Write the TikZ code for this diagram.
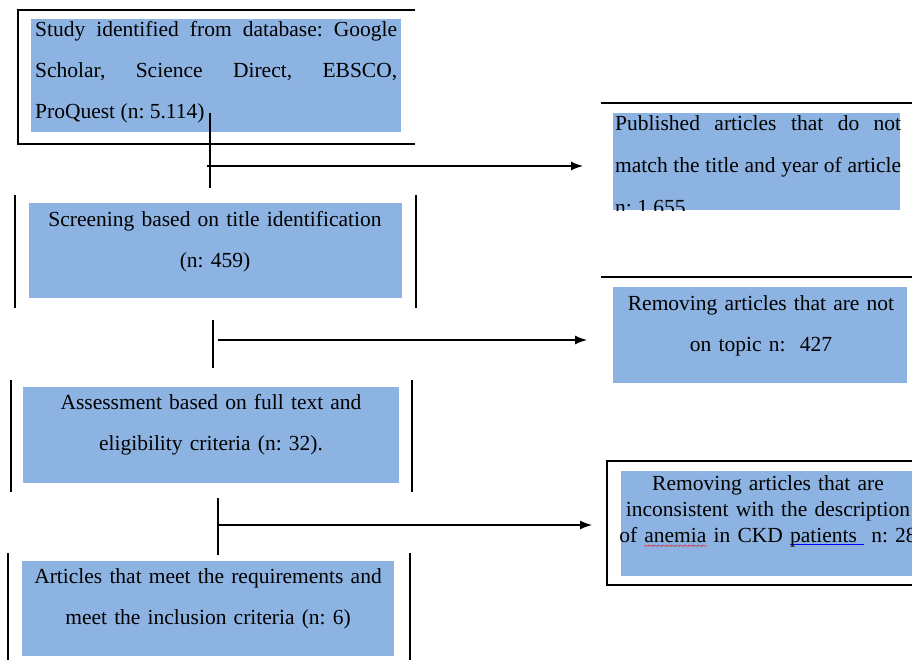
\documentclass[tikz,border=0pt]{standalone}
\usepackage{fontspec}
\setmainfont{Liberation Serif}
\usetikzlibrary{arrows.meta}
\definecolor{boxblue}{RGB}{141,179,226}
\hyphenpenalty=10000
\exhyphenpenalty=10000
\frenchspacing
\newsavebox\markbox
\newcommand\redwave[1]{\sbox\markbox{#1}\rlap{\raisebox{-7pt}[0pt][0pt]{\textcolor{red}{\hbox to \wd\markbox{\fontsize{10}{10}\selectfont\xleaders\hbox{\kern-0.5pt\char"7E\kern-0.5pt}\hfil}}}}\usebox\markbox}
\newcommand\blueline[1]{\sbox\markbox{#1}\rlap{\textcolor{blue}{\rule[-3pt]{\wd\markbox}{0.9pt}}}\usebox\markbox}
\tikzset{
  fillbox/.style={fill=boxblue, draw=none, inner sep=0pt, anchor=north west},
  boxtext/.style={inner sep=0pt, anchor=base, align=center, font=\fontsize{21.5}{41}\selectfont},
  frame/.style={line width=2pt},
  link/.style={line width=1.3pt},
}
\begin{document}
\begin{tikzpicture}[x=1pt, y=-1pt, >={Latex[length=12pt,width=9pt]}]
    \clip (0,0) rectangle (912,660);

    % 1. Hop ben trai: khung va nen xanh
    \draw[frame] (415,10) -- (18,10) -- (18,144) -- (415,144);
    \node[fillbox, minimum width=370pt, minimum height=113pt] (study) at (31,19) {};
    \node[boxtext, anchor=base west, text width=362pt, align=justify] (studytxt) at (35,37)
        {Study identified from database: Google Scholar, Science Direct, EBSCO, ProQuest (n: 5.114)};

    \draw[frame] (15,195) -- (15,308);
    \draw[frame] (416,195) -- (416,308);
    \node[fillbox, minimum width=373pt, minimum height=95pt] (screen) at (29,203) {};
    \node[boxtext, text width=370pt] (screentxt) at (215,226)
        {Screening based on title identification\\(n: 459)};

    \draw[frame] (11,380) -- (11,492);
    \draw[frame] (412,380) -- (412,492);
    \node[fillbox, minimum width=376pt, minimum height=96pt] (assess) at (23,387) {};
    \node[boxtext, text width=370pt] (assesstxt) at (211,409)
        {Assessment based on full text and\\eligibility criteria (n: 32).};

    \draw[frame] (8,553) -- (8,665);
    \draw[frame] (410,553) -- (410,665);
    \node[fillbox, minimum width=372pt, minimum height=95pt] (final) at (22,561) {};
    \node[boxtext, text width=370pt] (finaltxt) at (208,583)
        {Articles that meet the requirements and\\meet the inclusion criteria (n: 6)};

    % 2. Hop ben phai
    \draw[frame] (601,103) -- (920,103);
    \node[fillbox, minimum width=287pt, minimum height=97pt] (pubfill) at (613,113) {};
    \begin{scope}
        \clip (pubfill.north west) rectangle (pubfill.south east);
        \node[boxtext, anchor=base west, text width=286pt, align=justify,
              font=\fontsize{21.5}{42}\selectfont] (pubtxt) at (615,131)
            {Published articles that do not match the title and year of article n: 1.655};
    \end{scope}

    \draw[frame] (601,277) -- (920,277);
    \node[fillbox, minimum width=294pt, minimum height=96pt] (offtopic) at (613,287) {};
    \node[boxtext, text width=290pt] (offtxt) at (761,310)
        {Removing articles that are not\\on topic n:\ \ 427};

    \draw[frame] (607,461) rectangle (930,585);
    \node[fillbox, minimum width=300pt, minimum height=105pt] (anemia) at (621,471) {};
    \node[boxtext, text width=330pt, font=\fontsize{21.5}{26}\selectfont] (anemiatxt) at (768,490)
        {Removing articles that are\\inconsistent with the description\\of \redwave{anemia} in CKD \blueline{patients\ } n: 28};

    % 3. Duong noi va mui ten
    \coordinate (v1a) at (210,113);
    \coordinate (v1b) at (210,188);
    \coordinate (h1a) at (207,166);
    \coordinate (h1b) at (583,166);
    \draw[link] (v1a) -- (v1b);
    \draw[link, ->] (h1a) -- (h1b);

    \coordinate (v2a) at (213,320);
    \coordinate (v2b) at (213,368);
    \coordinate (h2a) at (218,340);
    \coordinate (h2b) at (587,340);
    \draw[link] (v2a) -- (v2b);
    \draw[link, ->] (h2a) -- (h2b);

    \coordinate (v3a) at (218,498);
    \coordinate (v3b) at (218,555);
    \coordinate (h3a) at (218,525);
    \coordinate (h3b) at (592,525);
    \draw[link] (v3a) -- (v3b);
    \draw[link, ->] (h3a) -- (h3b);
\end{tikzpicture}
\end{document}
